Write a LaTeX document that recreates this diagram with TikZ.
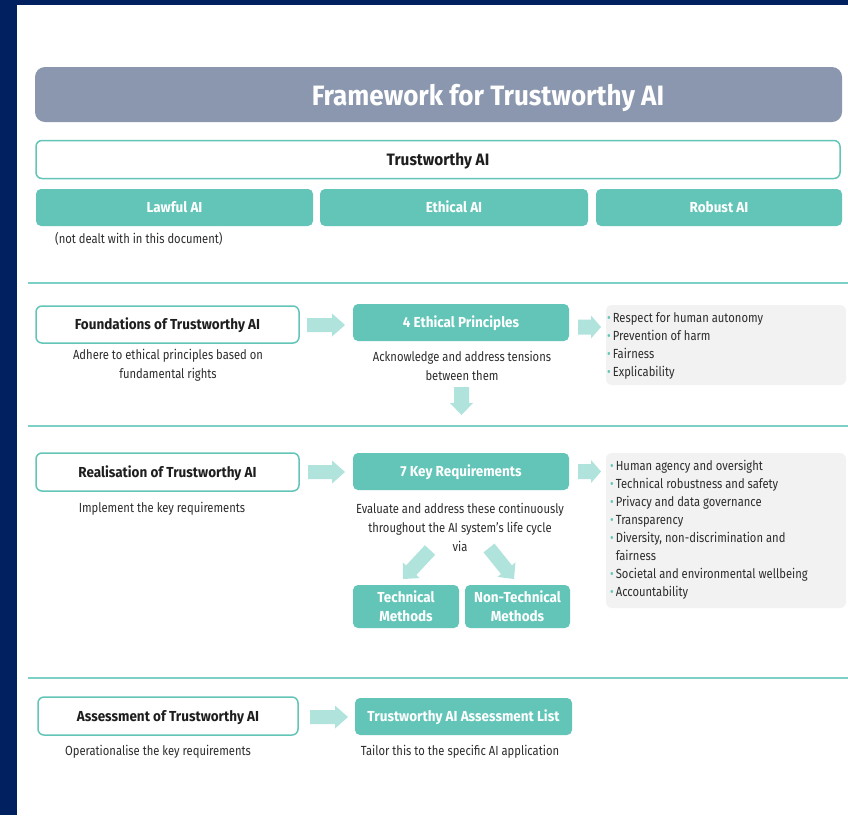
\documentclass[tikz,border=0pt]{standalone}
\usepackage{fontspec}
\setmainfont{Fira Sans}[FakeStretch=0.85]
\newfontfamily\bfam{Fira Sans}[FakeStretch=0.93]
\usetikzlibrary{calc}
\definecolor{navy}{RGB}{0,32,96}
\definecolor{teal}{RGB}{99,197,184}
\definecolor{tealline}{RGB}{125,208,198}
\definecolor{lightteal}{RGB}{176,227,220}
\definecolor{greybox}{RGB}{242,242,242}
\definecolor{titlebar}{RGB}{138,151,174}
\definecolor{darktext}{RGB}{30,30,30}
\definecolor{bodytext}{RGB}{45,45,45}
\newcommand\blockarr[5]{%
  \coordinate (ba-h) at ($(#2)!#5!(#1)$);
  \fill[lightteal] ($(#1)!#3!90:(#2)$) -- ($(ba-h)!#3!90:(#2)$) -- ($(ba-h)!#4!90:(#2)$)
    -- (#2) -- ($(ba-h)!#4!-90:(#2)$) -- ($(ba-h)!#3!-90:(#2)$) -- ($(#1)!#3!-90:(#2)$) -- cycle;}
\tikzset{
  titlebox/.style={fill=titlebar, rounded corners=10pt, inner sep=0pt},
  titletext/.style={text=white, inner sep=0pt, text height=19.3pt, text depth=0pt,
    font=\bfam\fontsize{28}{32}\selectfont\bfseries},
  outlinebox/.style={draw=teal, line width=1.5pt, fill=white, rounded corners=6pt, inner sep=0pt,
    text height=10pt, text depth=0pt,
    text=darktext, font=\bfam\fontsize{14.5}{17}\selectfont\bfseries},
  tealbox/.style={fill=teal, rounded corners=5pt, inner sep=0pt, text=white,
    font=\bfam\fontsize{14.5}{19}\selectfont\bfseries, align=center},
  oneline/.style={text height=10pt, text depth=0pt},
  greyback/.style={fill=greybox, rounded corners=6pt, inner sep=0pt},
  desc/.style={text=bodytext, font=\fontsize{13.2}{19}\selectfont, align=center, inner sep=0pt},
  bullet/.style={text=bodytext, font=\fontsize{13.2}{18}\selectfont, inner sep=0pt, anchor=base west},
  sepline/.style={draw=tealline, line width=2pt}
}
\newcommand\bul{\textcolor{teal}{\textbullet}\hspace{2pt}}
\begin{document}
\begin{tikzpicture}[x=1pt,y=-1pt]
\useasboundingbox (0,0) rectangle (848,815);
% background
\fill[navy] (0,0) rectangle (848,815);
\fill[white] (17,5) rectangle (848,815);

% title
\node[titlebox, minimum width=807pt, minimum height=55pt] (title) at (438.5,94.5) {};
\node[titletext] (titletxt) at (488,95.5) {Framework for Trustworthy AI};

% trustworthy AI
\node[outlinebox, minimum width=804pt, minimum height=38pt, text height=11.4pt, font=\bfam\fontsize{16.5}{19}\selectfont\bfseries] (tw) at (438,159.5) {Trustworthy AI};
\node[tealbox, oneline, minimum width=277pt, minimum height=37pt] (lawful) at (174.5,207.5) {Lawful AI};
\node[tealbox, oneline, minimum width=268pt, minimum height=37pt] (ethical) at (454,207.5) {Ethical AI};
\node[tealbox, oneline, minimum width=246pt, minimum height=37pt] (robust) at (719,207.5) {Robust AI};
\node[desc, anchor=west] (notdealt) at (55,238.5) {(not dealt with in this document)};

\coordinate (l1a) at (28,283); \coordinate (l1b) at (848,283);
\draw[sepline] (l1a) -- (l1b);

% foundations row
\node[outlinebox, minimum width=263pt, minimum height=37pt] (found) at (167.5,324.5) {Foundations of Trustworthy AI};
\node[tealbox, oneline, minimum width=216pt, minimum height=37pt] (ethp) at (461,322.5) {4 Ethical Principles};
\node[greyback, minimum width=240pt, minimum height=80pt] (grey1) at (726,345) {};
\foreach \t [count=\i] in {Respect for human autonomy, Prevention of harm, Fairness, Explicability}
  \node[bullet] (b1-\i) at (607,{322.5+18*(\i-1)}) {\bul\t};
\node[desc] (found-d) at (168,365.5) {Adhere to ethical principles based on\\fundamental rights};
\node[desc] (ethp-d) at (462,366) {Acknowledge and address tensions\\between them};

\coordinate (a1s) at (307,325); \coordinate (a1t) at (345,325);
\blockarr{a1s}{a1t}{7pt}{11.5pt}{13pt}
\coordinate (a2s) at (578,327); \coordinate (a2t) at (601,327);
\blockarr{a2s}{a2t}{7.5pt}{11.5pt}{10pt}
\coordinate (a3s) at (461.5,387); \coordinate (a3t) at (461.5,415);
\blockarr{a3s}{a3t}{7.5pt}{11.5pt}{12pt}

\coordinate (l2a) at (28,426); \coordinate (l2b) at (848,426);
\draw[sepline] (l2a) -- (l2b);

% realisation row
\node[outlinebox, minimum width=263pt, minimum height=38pt] (real) at (167.5,472) {Realisation of Trustworthy AI};
\node[tealbox, oneline, minimum width=216pt, minimum height=37pt] (keyreq) at (461,471.5) {7 Key Requirements};
\node[greyback, minimum width=240pt, minimum height=155pt] (grey2) at (726,530.5) {};
\foreach \t [count=\i] in {Human agency and oversight, Technical robustness and safety, Privacy and data governance, Transparency, {Diversity, non-discrimination and}, {\phantom{\bul}fairness}, Societal and environmental wellbeing, Accountability}
  \node[bullet] (b2-\i) at (610,{470+18.1*(\i-1)}) {\ifnum\i=6 \t\else\bul\t\fi};
\node[desc] (real-d) at (162,509) {Implement the key requirements};
\node[desc] (keyreq-d) at (460,527.5) {Evaluate and address these continuously\\throughout the AI system’s life cycle\\via};

\coordinate (a4s) at (308,472); \coordinate (a4t) at (345,472);
\blockarr{a4s}{a4t}{7pt}{11.5pt}{13pt}
\coordinate (a5s) at (578,471.5); \coordinate (a5t) at (601,471.5);
\blockarr{a5s}{a5t}{7.5pt}{11.5pt}{10pt}

\node[tealbox, minimum width=106pt, minimum height=43pt] (tech) at (406,606.5) {Technical\\Methods};
\node[tealbox, minimum width=105pt, minimum height=43pt] (nontech) at (517.5,606.5) {Non-Technical\\Methods};
\coordinate (a6s) at (430,550); \coordinate (a6t) at (403,579);
\blockarr{a6s}{a6t}{7pt}{11.5pt}{12pt}
\coordinate (a7s) at (489,548); \coordinate (a7t) at (514,579);
\blockarr{a7s}{a7t}{7pt}{11.5pt}{12pt}

\coordinate (l3a) at (28,678); \coordinate (l3b) at (848,678);
\draw[sepline] (l3a) -- (l3b);

% assessment row
\node[outlinebox, minimum width=260pt, minimum height=38pt] (assess) at (168,716) {Assessment of Trustworthy AI};
\node[tealbox, oneline, minimum width=217pt, minimum height=37pt] (alist) at (463.5,716.5) {Trustworthy AI Assessment List};
\coordinate (a8s) at (310,717); \coordinate (a8t) at (348,717);
\blockarr{a8s}{a8t}{7pt}{11.5pt}{13pt}
\node[desc] (assess-d) at (158,752) {Operationalise the key requirements};
\node[desc] (alist-d) at (460,752) {Tailor this to the specific AI application};
\end{tikzpicture}
\end{document}
